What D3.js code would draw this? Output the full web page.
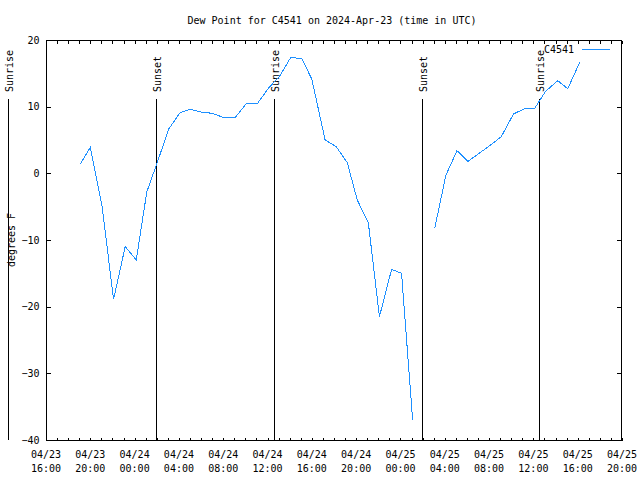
<!DOCTYPE html>
<html><head><meta charset="utf-8">
<script src="https://cdn.jsdelivr.net/npm/d3@7"></script>
<style>
html,body{margin:0;padding:0;background:#fff;}
text{font-family:"DejaVu Sans Mono","Liberation Mono",monospace;font-size:10px;fill:#000;}
</style></head>
<body><svg id="c" width="640" height="480"></svg>
<script>
const title = "Dew Point for C4541 on 2024-Apr-23 (time in UTC)";
const seriesName = "C4541";
const yLabel = "degrees F";
const times = [
 "2024-04-23 19:06","2024-04-23 20:00","2024-04-23 21:03","2024-04-23 22:06","2024-04-23 23:09",
 "2024-04-24 00:09","2024-04-24 01:06","2024-04-24 02:06","2024-04-24 03:06","2024-04-24 04:06",
 "2024-04-24 05:00","2024-04-24 06:00","2024-04-24 07:00","2024-04-24 08:00","2024-04-24 09:06",
 "2024-04-24 10:06","2024-04-24 11:06","2024-04-24 12:06","2024-04-24 13:06","2024-04-24 14:06",
 "2024-04-24 15:06","2024-04-24 16:00","2024-04-24 17:12","2024-04-24 18:12","2024-04-24 19:12",
 "2024-04-24 20:06","2024-04-24 21:06","2024-04-24 22:06","2024-04-24 23:12","2024-04-25 00:06",
 "2024-04-25 01:06","2024-04-25 02:00","2024-04-25 03:06","2024-04-25 04:06","2024-04-25 05:06",
 "2024-04-25 06:06","2024-04-25 07:06","2024-04-25 08:06","2024-04-25 09:06","2024-04-25 10:12",
 "2024-04-25 11:12","2024-04-25 12:06","2024-04-25 13:06","2024-04-25 14:12","2024-04-25 15:06",
 "2024-04-25 16:12"
];
const dewPoint = [
 1.4, 3.9, -4.8, -18.9, -11.0,
 -13.0, -2.8, 1.9, 6.7, 9.1,
 9.6, 9.2, 9.0, 8.4, 8.4,
 10.5, 10.5, 12.8, 14.6, 17.4,
 17.2, 14.1, 5.0, 4.0, 1.6,
 -4.0, -7.4, -21.5, -14.4, -15.0,
 -37.0, null, -8.2, -0.3, 3.4,
 1.8, 3.0, 4.2, 5.5, 8.9,
 9.7, 9.7, 12.3, 13.9, 12.7,
 16.7
];
const sunEvents = [
 {label:"Sunrise", time:"2024-04-23 12:35"},
 {label:"Sunset",  time:"2024-04-24 01:57"},
 {label:"Sunrise", time:"2024-04-24 12:33"},
 {label:"Sunset",  time:"2024-04-25 01:57"},
 {label:"Sunrise", time:"2024-04-25 12:31"}
];
const xDomain = ["2024-04-23 16:00","2024-04-25 20:00"];
const yDomain = [-40, 20];
const yTicks = [-40,-30,-20,-10,0,10,20];

const parse = d3.utcParse("%Y-%m-%d %H:%M");
const data = times.map((t,i)=>({t:parse(t), v:dewPoint[i]}));

const L=46, R=622, T=40, B=440;
const svg = d3.select("#c");
const x = d3.scaleUtc().domain(xDomain.map(parse)).range([L,R]);
const y = d3.scaleLinear().domain(yDomain).range([B,T]);

// title
svg.append("text").attr("x",332).attr("y",24).attr("text-anchor","middle").text(title);

// frame
svg.append("rect").attr("x",L+0.5).attr("y",T+0.5).attr("width",R-L-1).attr("height",B-T)
  .attr("fill","none").attr("stroke","#000").attr("stroke-width",1).attr("shape-rendering","crispEdges");

// x ticks (hourly, inward, top & bottom)
const hourly = d3.utcHour.every(1).range(x.domain()[0], d3.utcHour.offset(x.domain()[1],1));
const fmtD = d3.utcFormat("%m/%d"), fmtH = d3.utcFormat("%H:%M");
const xb = svg.append("g").attr("transform",`translate(0,${B+0.5})`)
  .call(d3.axisBottom(x).tickValues(hourly).tickSize(-3).tickFormat(""));
const xt = svg.append("g").attr("transform",`translate(0,${T+0.5})`)
  .call(d3.axisTop(x).tickValues(hourly).tickSize(-3).tickFormat(""));
[xb,xt].forEach(g=>{g.select(".domain").remove();g.selectAll("line").attr("stroke","#000").attr("shape-rendering","crispEdges");});

const major = d3.utcHour.every(4).range(x.domain()[0], d3.utcHour.offset(x.domain()[1],1));
const xl = svg.append("g");
major.forEach(d=>{
  const t = xl.append("text").attr("x",x(d)).attr("text-anchor","middle");
  t.append("tspan").attr("x",x(d)).attr("y",458).text(fmtD(d));
  t.append("tspan").attr("x",x(d)).attr("y",472).text(fmtH(d));
});

// y ticks
const yl = svg.append("g").attr("transform",`translate(${L+0.5},0)`)
  .call(d3.axisLeft(y).tickValues(yTicks).tickSize(-4).tickPadding(7).tickFormat(d3.format("d")));
yl.select(".domain").remove();
yl.selectAll("line").attr("stroke","#000").attr("shape-rendering","crispEdges");
yl.selectAll("text").style("font-family",'"DejaVu Sans Mono",monospace').style("font-size","10px").attr("fill","#000");
const yr = svg.append("g").attr("transform",`translate(${R-0.5},0)`)
  .call(d3.axisRight(y).tickValues(yTicks).tickSize(-5).tickFormat(""));
yr.select(".domain").remove();
yr.selectAll("line").attr("stroke","#000").attr("shape-rendering","crispEdges");

// y label
svg.append("text").attr("transform","translate(11,240) rotate(-90)")
  .attr("text-anchor","middle").attr("dy","0.35em").text(yLabel);

// sun events
sunEvents.forEach(e=>{
  const px = Math.round(x(parse(e.time)))+0.5;
  svg.append("line").attr("x1",px).attr("x2",px).attr("y1",99).attr("y2",B)
    .attr("stroke","#000").attr("stroke-width",1).attr("shape-rendering","crispEdges");
  svg.append("text").attr("transform",`translate(${px+1},92) rotate(-90)`)
    .attr("text-anchor","start").attr("dy","0.35em").text(e.label);
});

// data line
const line = d3.line().defined(d=>d.v!==null).x(d=>x(d.t)).y(d=>y(d.v));
svg.append("path").datum(data).attr("d",line).attr("fill","none")
  .attr("stroke","#1e90ff").attr("stroke-width",1).attr("shape-rendering","crispEdges");

// legend
svg.append("text").attr("x",574).attr("y",53).attr("text-anchor","end").text(seriesName);
svg.append("line").attr("x1",582).attr("x2",610).attr("y1",49.5).attr("y2",49.5)
  .attr("stroke","#1e90ff").attr("stroke-width",1).attr("shape-rendering","crispEdges");
</script></body></html>
